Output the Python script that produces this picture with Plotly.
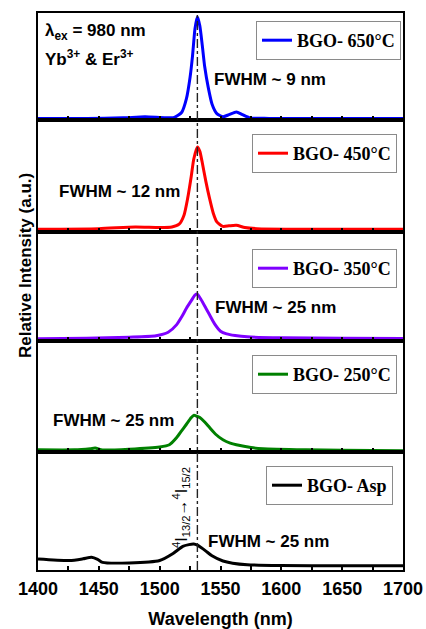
import plotly.graph_objects as go
from plotly.subplots import make_subplots

# ---------------- data ----------------
wl_650 = [1400, 1440, 1470, 1488, 1505, 1512, 1518, 1522, 1525, 1527, 1529, 1531, 1533, 1535, 1537,
          1540, 1543, 1547, 1552, 1557, 1563, 1568, 1574, 1590, 1700]
in_650 = [0.015, 0.015, 0.02, 0.03, 0.02, 0.025, 0.07, 0.2, 0.4, 0.6, 0.85, 0.965, 0.88, 0.7, 0.5,
          0.3, 0.15, 0.06, 0.03, 0.05, 0.075, 0.05, 0.02, 0.015, 0.015]

wl_450 = [1400, 1450, 1480, 1500, 1510, 1516, 1520, 1523, 1526, 1528, 1531, 1533, 1535, 1538, 1541,
          1544, 1547, 1552, 1557, 1563, 1570, 1580, 1700]
in_450 = [0.025, 0.03, 0.045, 0.04, 0.045, 0.07, 0.15, 0.3, 0.5, 0.65, 0.76, 0.72, 0.62, 0.45, 0.3,
          0.17, 0.09, 0.05, 0.055, 0.06, 0.04, 0.03, 0.025]

wl_350 = [1400, 1440, 1475, 1497, 1507, 1514, 1518, 1522, 1526, 1529, 1531, 1534, 1538, 1541, 1545,
          1550, 1555, 1562, 1572, 1600, 1650, 1700]
in_350 = [0.02, 0.025, 0.035, 0.048, 0.08, 0.15, 0.22, 0.30, 0.37, 0.42, 0.43, 0.38, 0.30, 0.24, 0.16,
          0.09, 0.065, 0.05, 0.038, 0.03, 0.025, 0.022]

wl_250 = [1400, 1430, 1443, 1447, 1453, 1475, 1500, 1508, 1514, 1518, 1522, 1526, 1528, 1531, 1533,
          1537, 1541, 1546, 1552, 1558, 1563, 1575, 1585, 1620, 1650, 1700]
in_250 = [0.02, 0.02, 0.03, 0.035, 0.018, 0.025, 0.045, 0.065, 0.13, 0.19, 0.25, 0.31, 0.33, 0.32, 0.31,
          0.27, 0.22, 0.16, 0.11, 0.08, 0.065, 0.04, 0.03, 0.02, 0.015, 0.012]

wl_asp = [1400, 1426, 1437, 1444, 1449, 1453, 1475, 1500, 1511, 1519, 1524, 1528, 1531, 1534, 1538,
          1543, 1552, 1560, 1572, 1599, 1650, 1700]
in_asp = [0.093, 0.08, 0.095, 0.108, 0.09, 0.065, 0.06, 0.08, 0.14, 0.2, 0.215, 0.22, 0.21, 0.19, 0.16,
          0.12, 0.076, 0.058, 0.045, 0.038, 0.035, 0.035]

series_names = ["BGO- 650°C", "BGO- 450°C", "BGO- 350°C", "BGO- 250°C", "BGO- Asp"]
series_colors = ["#0000FF", "#FF0000", "#7F00FF", "#008000", "#000000"]
series_x = [wl_650, wl_450, wl_350, wl_250, wl_asp]
series_y = [in_650, in_450, in_350, in_250, in_asp]

fwhm_labels = ["FWHM ~ 9 nm", "FWHM ~ 12 nm", "FWHM ~ 25 nm", "FWHM ~ 25 nm", "FWHM ~ 25 nm"]
x_tick_vals = [1400, 1450, 1500, 1550, 1600, 1650, 1700]
x_tick_text = ["1400", "1450", "1500", "1550", "1600", "1650", "1700"]
transition_wl = 1531

# ---------------- layout geometry ----------------
W, H = 426, 629
ML, MR, MT, MB = 38, 23, 13, 59
PH = H - MT - MB
row_px = [107, 112, 109, 111, 118]


def py(p):
    """pixel y -> paper y"""
    return 1 - (p - MT) / PH


def px(p):
    return (p - ML) / (W - ML - MR)


fig = make_subplots(rows=5, cols=1, shared_xaxes=True, vertical_spacing=0,
                    row_heights=row_px)

legend_keys = ["legend", "legend2", "legend3", "legend4", "legend5"]
for i in range(5):
    fig.add_trace(go.Scatter(
        x=series_x[i], y=series_y[i], mode="lines", line_shape="spline",
        line=dict(color=series_colors[i], width=3, smoothing=0.6),
        name="<b>" + series_names[i] + "</b>", legend=legend_keys[i]),
        row=i + 1, col=1)

# legends (one per panel)
leg_pos = [(401, 21), (397, 134), (397, 249), (397, 355), (393, 466)]
for i, key in enumerate(legend_keys):
    fig.update_layout(**{key: dict(
        x=px(leg_pos[i][0]), y=py(leg_pos[i][1]), xanchor="right", yanchor="top",
        bgcolor="white", bordercolor="#8a8a8a", borderwidth=1,
        font=dict(family="Liberation Serif", size=18, color="black"),
        itemwidth=30, tracegroupgap=0)})

axis_font = dict(family="Liberation Sans", size=18, color="black")
for i in range(5):
    fig.update_xaxes(row=i + 1, col=1, range=[1400, 1700], showline=True, linecolor="black",
                     linewidth=2, mirror=True, ticks="inside", ticklen=4, tickwidth=2,
                     tickcolor="black", tickvals=x_tick_vals,
                     ticktext=["<b>" + t + "</b>" for t in x_tick_text],
                     showgrid=False, zeroline=False, automargin=False,
                     minor=dict(ticks="inside", ticklen=4, tickwidth=2, tickcolor="black", dtick=25),
                     showticklabels=(i == 4), tickfont=axis_font, ticklabelstandoff=1)
    fig.update_yaxes(row=i + 1, col=1, range=[0, 1], showline=True, linecolor="black",
                     linewidth=2, mirror=True, ticks="", showticklabels=False,
                     showgrid=False, zeroline=False, automargin=False)

fig.update_xaxes(row=5, col=1, title=dict(text="<b>Wavelength (nm)</b>", font=axis_font, standoff=15))

# vertical dash-dot line at the transition
fig.add_shape(type="line", xref="x", yref="paper", x0=transition_wl, x1=transition_wl,
              y0=0, y1=1, line=dict(color="#222222", width=1.4, dash="dashdot"), layer="above")

bold_font = dict(family="Liberation Sans", size=17, color="black", weight="bold")
ann = []
ann.append(dict(text="λ<sub>ex</sub> = 980 nm", x=px(43), y=py(32)))
ann.append(dict(text="Yb<sup>3+</sup> & Er<sup>3+</sup>", x=px(43), y=py(58)))
fw_pos = [(212, 80), (57, 191), (213, 307), (51, 420), (206, 541)]
for i, lab in enumerate(fwhm_labels):
    ann.append(dict(text=lab, x=px(fw_pos[i][0]), y=py(fw_pos[i][1])))
for a in ann:
    fig.add_annotation(xref="paper", yref="paper", xanchor="left", yanchor="middle",
                       showarrow=False, font=bold_font, **a)

fig.add_annotation(text="<sup>4</sup>I<sub>13/2</sub>→<sup>4</sup>I<sub>15/2</sub>",
                   xref="paper", yref="paper", x=px(181), y=py(508), textangle=-90,
                   showarrow=False, xanchor="center", yanchor="middle",
                   font=dict(family="Liberation Sans", size=16, color="black"))

fig.add_annotation(text="Relative Intensity (a.u.)", xref="paper", yref="paper",
                   x=px(25), y=py(266), textangle=-90, showarrow=False,
                   xanchor="center", yanchor="middle",
                   font=dict(family="Liberation Sans", size=17, color="black", weight="bold"))

fig.update_layout(width=W, height=H, margin=dict(l=ML, r=MR, t=MT, b=MB, autoexpand=False),
                  paper_bgcolor="white", plot_bgcolor="white", showlegend=True)

fig.write_html("out.html")
